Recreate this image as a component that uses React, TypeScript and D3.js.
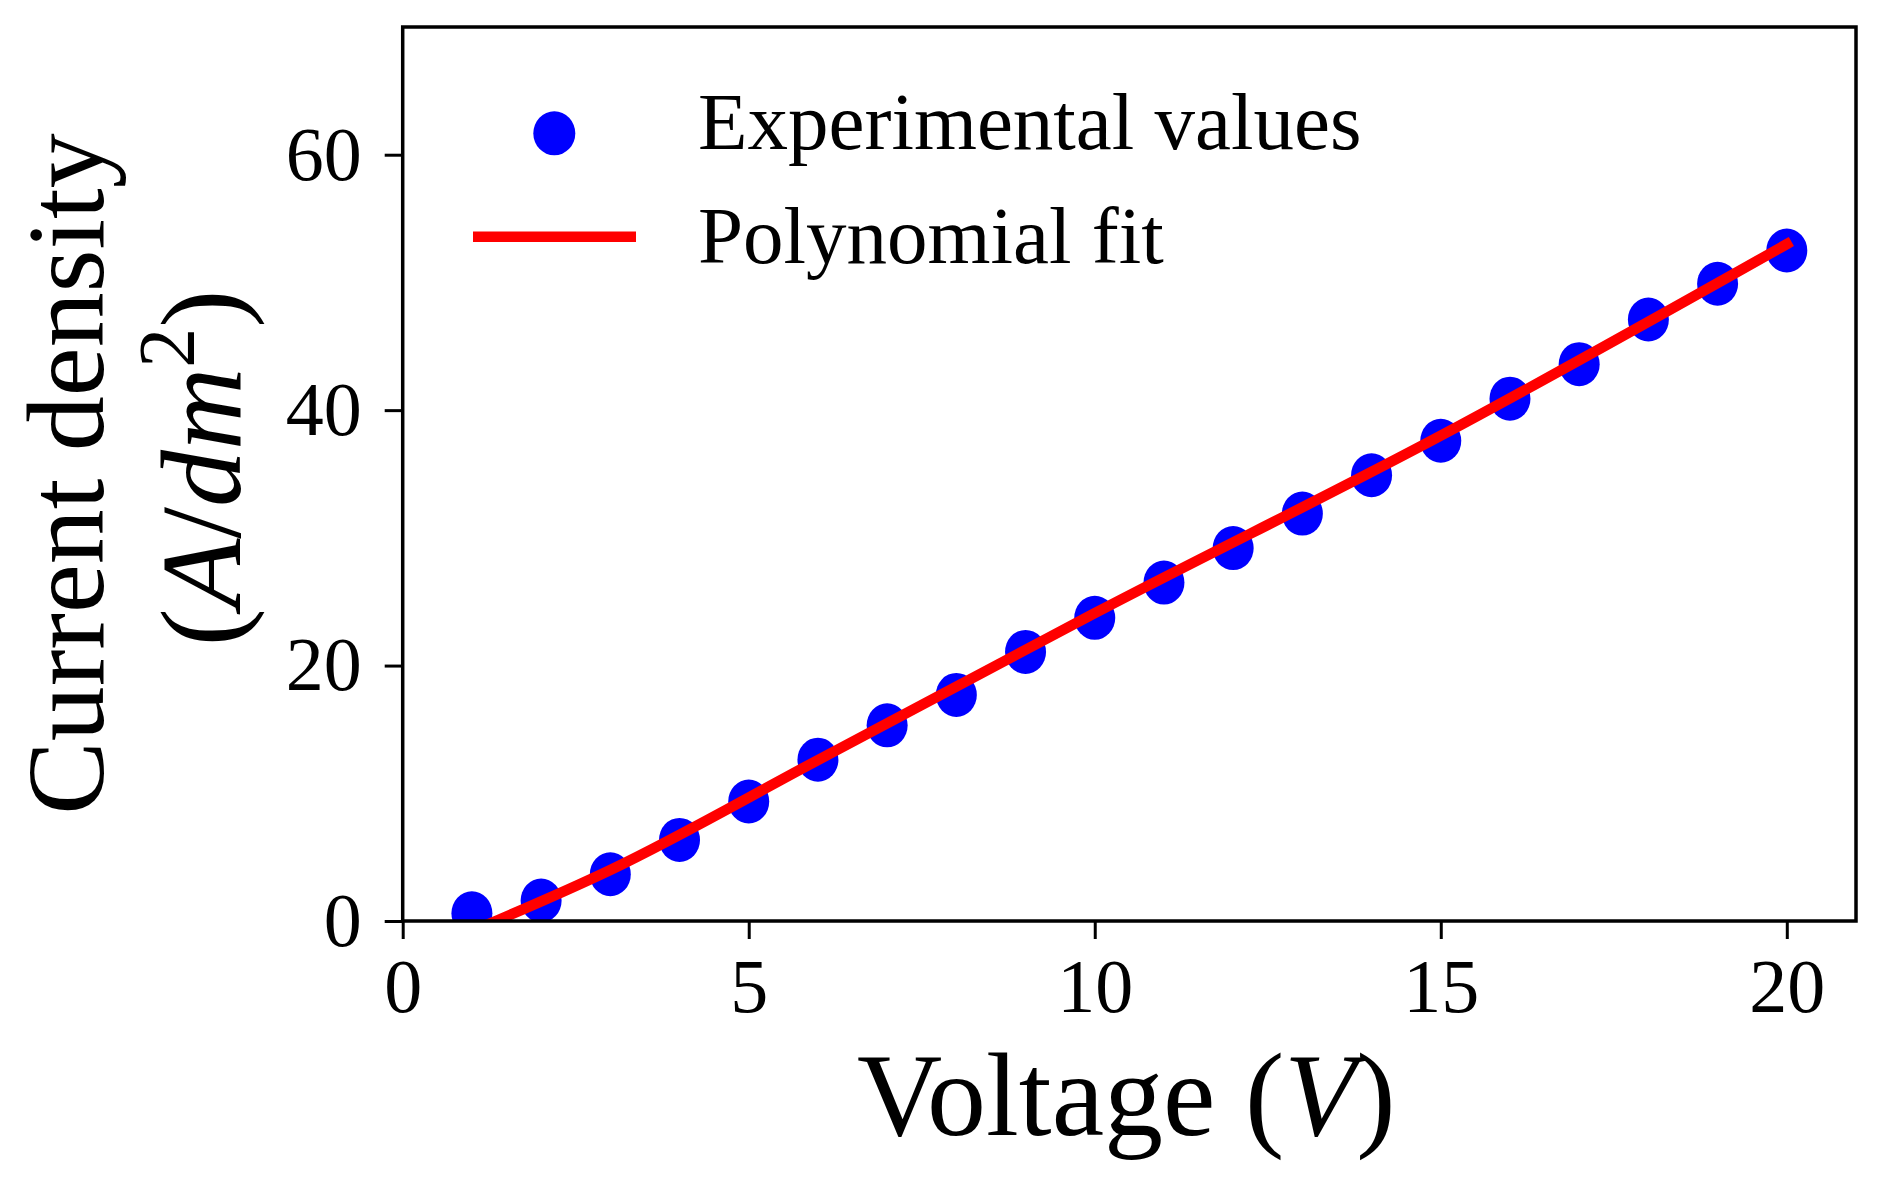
import React, { useEffect, useRef } from 'react';
import * as d3 from 'd3';

// experimental points (V, A/dm^2)
const voltage = [1, 2, 3, 4, 5, 6, 7, 8, 9, 10, 11, 12, 13, 14, 15, 16, 17, 18, 19, 20];
const currentDensity = [0.6, 1.6, 3.66, 6.35, 9.36, 12.63, 15.32, 17.7, 21.07, 23.74, 26.5, 29.2, 31.9, 34.9, 37.6, 40.9, 43.6, 47.1, 49.9, 52.5];

// fitted curve
const fitVoltage = [1, 3, 6, 10, 15, 20];
const fitDensity = [-0.8, 4.0, 12.6, 24.1, 38.0, 53.0];

const xTicks = [0, 5, 10, 15, 20];
const yTicks = [0, 20, 40, 60];
const legendLabels = ['Experimental values', 'Polynomial fit'];

const W = 1882;
const H = 1181;
const FONT = '"Liberation Serif", "DejaVu Serif", serif';

const App: React.FC = () => {
    const ref = useRef<SVGSVGElement>(null);

    useEffect(() => {
        const svg = d3.select(ref.current);
        svg.selectAll('*').remove();

        const left = 402.7, right = 1856, top = 27, bottom = 921;
        const x = d3.scaleLinear().domain([0, 21]).range([left, right]);
        const y = d3.scaleLinear().domain([0, 70]).range([bottom, top]);

        svg.append('defs').append('clipPath').attr('id', 'plotclip')
            .append('rect')
            .attr('x', left).attr('y', top)
            .attr('width', right - left).attr('height', bottom - top);

        const plot = svg.append('g').attr('clip-path', 'url(#plotclip)');

        plot.selectAll('ellipse.pt')
            .data(voltage)
            .enter().append('ellipse')
            .attr('class', 'pt')
            .attr('cx', d => x(d))
            .attr('cy', (_, i) => y(currentDensity[i]))
            .attr('rx', 20.5)
            .attr('ry', 22)
            .attr('fill', '#0000ff');

        const line = d3.line<number>()
            .x(d => x(d))
            .y((_, i) => y(fitDensity[i]))
            .curve(d3.curveMonotoneX);

        plot.append('path')
            .attr('d', line(fitVoltage))
            .attr('fill', 'none')
            .attr('stroke', '#ff0000')
            .attr('stroke-width', 10.5)
            .attr('stroke-linecap', 'square');

        // axes
        const xAxis = svg.append('g')
            .attr('transform', `translate(0,${bottom})`)
            .call(d3.axisBottom(x).tickValues(xTicks).tickSize(18).tickPadding(19).tickFormat(d3.format('d')));
        const yAxis = svg.append('g')
            .attr('transform', `translate(${left},0)`)
            .call(d3.axisLeft(y).tickValues(yTicks).tickSize(18).tickPadding(23).tickFormat(d3.format('d')));

        [xAxis, yAxis].forEach(a => {
            a.select('.domain').remove();
            a.selectAll('line').attr('stroke', '#000').attr('stroke-width', 3);
            a.selectAll('text')
                .attr('fill', '#000')
                .style('font-family', FONT)
                .style('font-size', '76px');
        });

        // frame
        svg.append('rect')
            .attr('x', left).attr('y', top)
            .attr('width', right - left).attr('height', bottom - top)
            .attr('fill', 'none')
            .attr('stroke', '#000')
            .attr('stroke-width', 3.5);

        // x label
        const xl = svg.append('text')
            .attr('x', (left + right) / 2 - 3)
            .attr('y', 1135)
            .attr('text-anchor', 'middle')
            .style('font-family', FONT)
            .style('font-size', '118px');
        xl.append('tspan').text('Voltage (');
        xl.append('tspan').attr('font-style', 'italic').text('V');
        xl.append('tspan').text(')');

        // y label, two lines
        const cy = (top + bottom) / 2;
        svg.append('text')
            .attr('transform', `translate(103,${cy}) rotate(-90)`)
            .attr('text-anchor', 'middle')
            .style('font-family', FONT)
            .style('font-size', '110px')
            .text('Current density');

        const yl2 = svg.append('text')
            .attr('transform', `translate(240,${cy - 6}) rotate(-90)`)
            .attr('text-anchor', 'middle')
            .style('font-family', FONT)
            .style('font-size', '114px');
        yl2.append('tspan').text('(');
        yl2.append('tspan').attr('font-style', 'italic').text('A');
        yl2.append('tspan').text('/');
        yl2.append('tspan').attr('font-style', 'italic').text('dm');
        yl2.append('tspan').attr('dy', -46).style('font-size', '80px').text('2');
        yl2.append('tspan').attr('dy', 46).text(')');

        // legend
        const legend = svg.append('g');
        legend.append('ellipse')
            .attr('cx', 554.3).attr('cy', 133.3)
            .attr('rx', 21).attr('ry', 22)
            .attr('fill', '#0000ff');
        legend.append('line')
            .attr('x1', 473).attr('x2', 636)
            .attr('y1', 236.7).attr('y2', 236.7)
            .attr('stroke', '#ff0000')
            .attr('stroke-width', 10.5);
        legend.selectAll('text.lab')
            .data(legendLabels)
            .enter().append('text')
            .attr('class', 'lab')
            .attr('x', 698)
            .attr('y', (_, i) => 149 + i * 114)
            .style('font-family', FONT)
            .style('font-size', '81px')
            .text(d => d);
    }, []);

    return (
        <svg
            ref={ref}
            width={W}
            height={H}
            style={{ position: 'absolute', left: 0, top: 0, background: '#fff', display: 'block' }}
        />
    );
};

export default App;
